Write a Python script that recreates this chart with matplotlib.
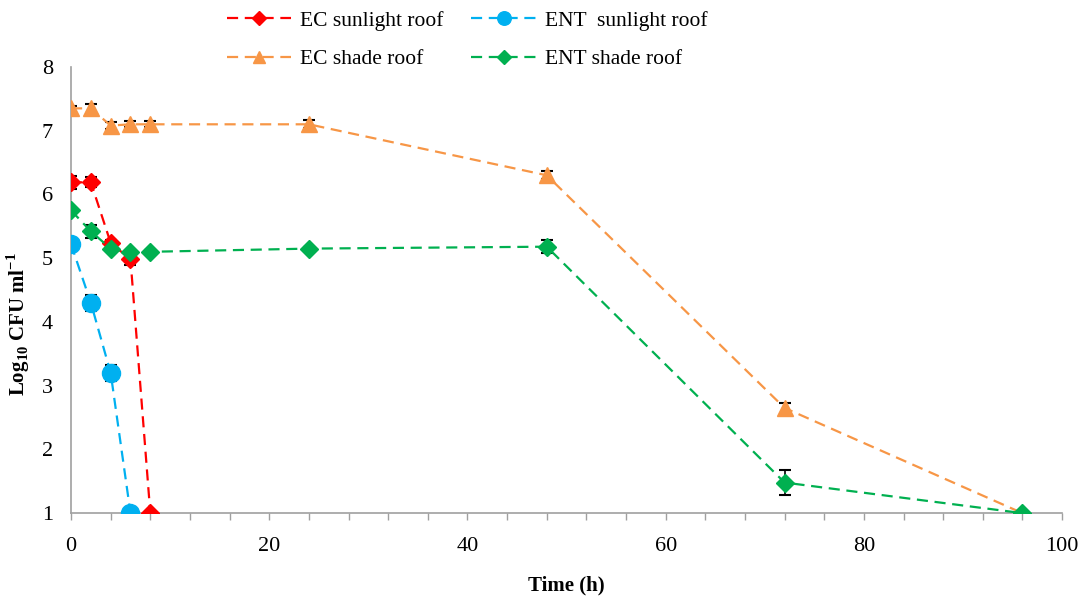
import matplotlib
matplotlib.use('Agg')
from matplotlib import pyplot as plt
from matplotlib.ticker import MultipleLocator

plt.rcParams['font.family'] = ['Liberation Serif', 'DejaVu Serif']
plt.rcParams['mathtext.fontset'] = 'custom'
plt.rcParams['mathtext.rm'] = 'Liberation Serif'
plt.rcParams['mathtext.bf'] = 'Liberation Serif:bold'

# data
ec_sun_x = [0, 2, 4, 6, 8]
ec_sun_y = [6.19, 6.19, 5.24, 4.98, 1.0]
ec_sun_err = [0.1, 0.08, 0.05, 0.08, 0]

ent_sun_x = [0, 2, 4, 6]
ent_sun_y = [5.22, 4.3, 3.2, 1.0]
ent_sun_err = [0.05, 0.13, 0.12, 0]

ec_shade_x = [0, 2, 4, 6, 8, 24, 48, 72, 96]
ec_shade_y = [7.35, 7.35, 7.08, 7.1, 7.1, 7.1, 6.3, 2.65, 1.0]
ec_shade_err = [0.04, 0.07, 0.05, 0.05, 0.05, 0.06, 0.06, 0.08, 0]

ent_shade_x = [0, 2, 4, 6, 8, 24, 48, 72, 96]
ent_shade_y = [5.75, 5.42, 5.15, 5.09, 5.1, 5.15, 5.18, 1.48, 1.0]
ent_shade_err = [0.03, 0.1, 0.04, 0.03, 0.03, 0.03, 0.1, 0.2, 0]

series = [
    (ec_sun_x, ec_sun_y, ec_sun_err, '#FF0000', 'D', 9, 'EC sunlight roof'),
    (ec_shade_x, ec_shade_y, ec_shade_err, '#F79646', '^', 12, 'EC shade roof'),
    (ent_sun_x, ent_sun_y, ent_sun_err, '#00B0F0', 'o', 13, 'ENT  sunlight roof'),
    (ent_shade_x, ent_shade_y, ent_shade_err, '#00B050', 'D', 9, 'ENT shade roof'),
]

fig = plt.figure(figsize=(10.86, 6.03), dpi=100)
ax = fig.add_axes([0.0654, 0.149, 0.9126, 0.74])

for x, y, err, color, marker, ms, label in series:
    ax.errorbar(x, y, yerr=err, fmt='none', ecolor='black', elinewidth=1.2,
                capsize=4, capthick=1.5, zorder=3)
    ax.plot(x, y, color=color, linestyle=(0, (5, 3)), linewidth=1.6,
            marker=marker, markersize=ms, markerfacecolor=color,
            markeredgecolor=color, label=label, zorder=4)

ax.set_xlim(0, 100)
ax.set_ylim(1, 8)
ax.xaxis.set_major_locator(MultipleLocator(20))
ax.xaxis.set_minor_locator(MultipleLocator(4))
ax.tick_params(axis='x', which='both', direction='out', length=5, width=1,
               color='#A0A0A0', labelsize=16, pad=12)
ax.tick_params(axis='y', length=0, labelsize=16, pad=13)

for side in ['top', 'right']:
    ax.spines[side].set_visible(False)
for side in ['left', 'bottom']:
    ax.spines[side].set_color('#A0A0A0')
    ax.spines[side].set_linewidth(1.2)

ax.set_xlabel('Time (h)', fontsize=15, fontweight='bold', labelpad=14)
ax.set_ylabel(r'Log$_{\mathbf{10}}$ CFU ml$^{\mathbf{-1}}$', fontsize=15,
              fontweight='bold')
ax.yaxis.set_label_coords(-0.039, 0.424)

fig.legend(loc='upper center', bbox_to_anchor=(0.43, 1.0), ncol=2,
           frameon=False, fontsize=15.5, handlelength=3.0, columnspacing=1.3,
           labelspacing=0.85, handletextpad=0.4, markerscale=0.75,
           borderaxespad=0.1)

fig.savefig('out.png', dpi=100)
